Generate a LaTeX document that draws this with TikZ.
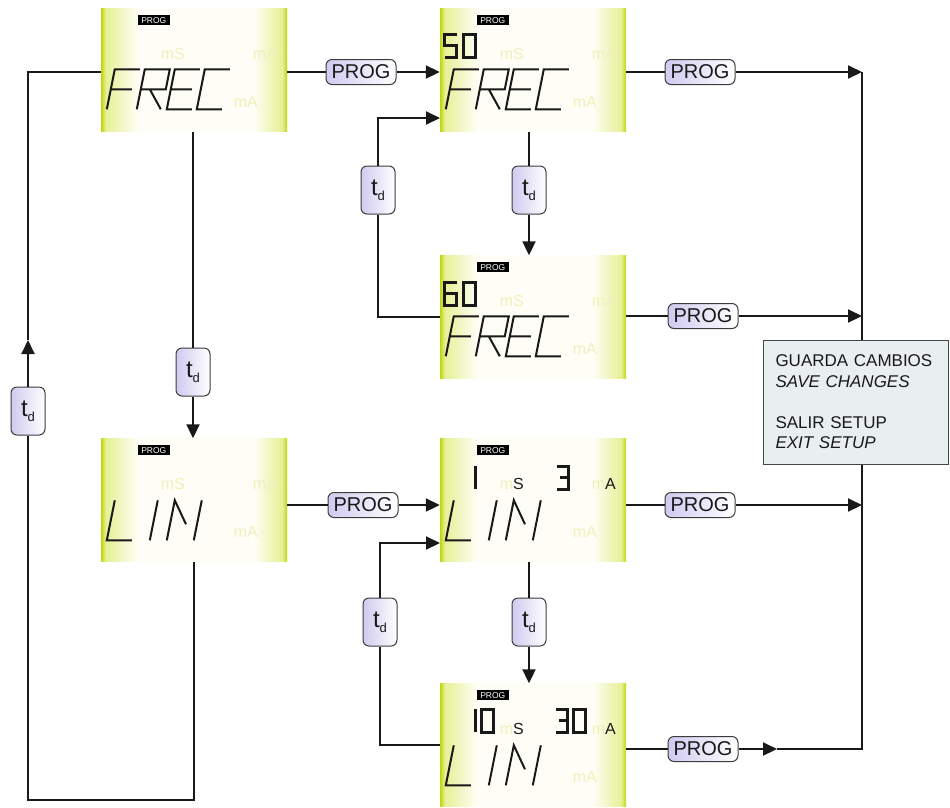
\documentclass[tikz,border=0pt]{standalone}
\usepackage{fontspec}
\setmainfont{Liberation Sans}
\usetikzlibrary{arrows.meta,calc}
\definecolor{lcdg}{RGB}{192,214,10}
\definecolor{lcdm}{RGB}{230,240,150}
\definecolor{lcdw}{RGB}{254,254,246}
\definecolor{pale}{RGB}{240,240,188}
\definecolor{lav}{RGB}{208,202,240}
\definecolor{boxc}{RGB}{233,238,240}
\definecolor{ink}{RGB}{25,25,25}
\pgfdeclarehorizontalshading{lcdshade}{100bp}{color(0bp)=(lcdg); color(25bp)=(lcdg); color(26.3bp)=(lcdm); color(35bp)=(lcdw); color(66bp)=(lcdw); color(73.7bp)=(lcdm); color(75bp)=(lcdg); color(100bp)=(lcdg)}
\tikzset{
  lcd/.style={minimum width=186pt, minimum height=123pt, inner sep=0pt, shading=lcdshade},
  wire/.style={line width=2pt, draw=ink},
  arr/.style={-{Triangle[length=14pt,width=13pt]}},
  pill/.style={draw=ink!85, line width=1pt, rounded corners=6pt, left color=lav, right color=white, text=ink, inner sep=0pt},
  progpill/.style={pill, minimum width=70pt, minimum height=25pt, font=\fontsize{20}{20}\selectfont},
  tdpill/.style={pill, minimum width=34pt, minimum height=48pt, font=\fontsize{24}{24}\selectfont},
  badge/.style={fill=black, text=white, font=\fontsize{8.5}{8.5}\selectfont, inner sep=0pt, minimum width=32pt, minimum height=10pt},
  faint/.style={text=pale, font=\fontsize{16}{16}\selectfont, anchor=base, inner sep=0pt},
  seg/.style={line width=2pt, draw=ink, line join=miter},
  dig/.style={line width=3pt, draw=ink},
  pics/gF/.style={code={\draw[seg] (0,40)--(0,0)--(25,0) (0,20)--(21,20);}},
  pics/gR/.style={code={\draw[seg] (0,40)--(0,0)--(25,0)--(25,20)--(0,20) (9,20)--(24,40);}},
  pics/gE/.style={code={\draw[seg] (25,0)--(0,0)--(0,40)--(25,40) (0,20)--(21,20);}},
  pics/gC/.style={code={\draw[seg] (25,0)--(0,0)--(0,40)--(25,40);}},
  pics/gL/.style={code={\draw[seg] (0,0)--(0,40)--(25,40);}},
  pics/gI/.style={code={\draw[seg] (0,0)--(0,40);}},
  pics/gN/.style={code={\draw[seg] (0,40)--(0,0)--(16,24) (27,0)--(27,40);}},
  pics/d0/.style={code={\draw[dig] (0,0) rectangle (12,23);}},
  pics/d1/.style={code={\draw[dig] (12,0)--(12,23);}},
  pics/d3/.style={code={\draw[dig] (0,0)--(12,0)--(12,23)--(0,23) (3,11.5)--(12,11.5);}},
  pics/d5/.style={code={\draw[dig] (12,0)--(0,0)--(0,11.5)--(12,11.5)--(12,23)--(0,23);}},
  pics/d6/.style={code={\draw[dig] (12,0)--(0,0)--(0,23)--(12,23)--(12,11.5)--(0,11.5);}},
}
\newcommand\lcddeco[3]{%
  \node[badge] (#1b) at (53,12) {PROG};
  \node[faint] (#1s) at (72,51) {m#2};
  \node[faint] (#1a) at (164,51) {m#3};
  \node[faint] (#1c) at (145,99) {mA};}
\newcommand\frecword{%
  \begin{scope}[shift={(14,61)}, xslant=0.2]
    \pic[transform shape] at (0,0) {gF}; \pic[transform shape] at (30,0) {gR};
    \pic[transform shape] at (60,0) {gE}; \pic[transform shape] at (90,0) {gC};
  \end{scope}}
\newcommand\liniword{%
  \begin{scope}[shift={(14,62)}, xslant=0.2]
    \pic[transform shape] at (0,0) {gL}; \pic[transform shape] at (43,0) {gI};
    \pic[transform shape] at (60,0) {gN};
  \end{scope}}
\begin{document}
\begin{tikzpicture}[x=1pt, y=-1pt]
\useasboundingbox (0,0) rectangle (950,807);
% LCD displays
\node[lcd] (lcd1) at (194,70) {};
\node[lcd] (lcd2) at (533,70) {};
\node[lcd] (lcd3) at (533,317) {};
\node[lcd] (lcd4) at (194,500) {};
\node[lcd] (lcd5) at (533,500) {};
\node[lcd] (lcd6) at (533,745) {};
% display contents
\begin{scope}[shift={(lcd1.north west)}]
  \lcddeco{a}{S}{A}\frecword
\end{scope}
\begin{scope}[shift={(lcd2.north west)}]
  \lcddeco{b}{S}{A}\frecword
  \pic at (5,26) {d5}; \pic at (24,26) {d0};
\end{scope}
\begin{scope}[shift={(lcd3.north west)}]
  \lcddeco{c}{S}{A}\frecword
  \pic at (5,27) {d6}; \pic at (24,27) {d0};
\end{scope}
\begin{scope}[shift={(lcd4.north west)}]
  \lcddeco{d}{S}{A}\liniword
\end{scope}
\begin{scope}[shift={(lcd5.north west)}]
  \lcddeco{e}{\textcolor{ink}{S}}{\textcolor{ink}{A}}\liniword
  \pic at (23.5,28) {d1}; \pic at (117,28) {d3};
\end{scope}
\begin{scope}[shift={(lcd6.north west)}]
  \lcddeco{f}{\textcolor{ink}{S}}{\textcolor{ink}{A}}\liniword
  \pic at (23.5,26) {d1}; \pic at (42,26) {d0};
  \pic at (116,26) {d3}; \pic at (134,26) {d0};
\end{scope}
% PROG pills
\node[progpill] (p1) at (361,72) {PROG};
\node[progpill] (p2) at (363,505) {PROG};
\node[progpill] (q1) at (700,72) {PROG};
\node[progpill] (q2) at (703,316) {PROG};
\node[progpill] (q3) at (700,505) {PROG};
\node[progpill] (q4) at (703,749) {PROG};
% td pills
\node[tdpill] (t0) at (28,411) {t\raisebox{-5pt}{\fontsize{13}{13}\selectfont d}};
\node[tdpill] (t1) at (193,372) {t\raisebox{-5pt}{\fontsize{13}{13}\selectfont d}};
\node[tdpill] (t2) at (378,190) {t\raisebox{-5pt}{\fontsize{13}{13}\selectfont d}};
\node[tdpill] (t3) at (529,190) {t\raisebox{-5pt}{\fontsize{13}{13}\selectfont d}};
\node[tdpill] (t4) at (529,622) {t\raisebox{-5pt}{\fontsize{13}{13}\selectfont d}};
\node[tdpill] (t5) at (380,622) {t\raisebox{-5pt}{\fontsize{13}{13}\selectfont d}};
% coordinates
\coordinate (r1) at (862,72);
\coordinate (r2) at (862,316);
\coordinate (r3) at (862,505);
\coordinate (r4) at (862,749);
\coordinate (m4) at (777,749);
\coordinate (m0) at (28,340);
\coordinate (bl) at (28,800);
\coordinate (e1) at (440,118);
\coordinate (e2) at (440,543);
% wires
\draw[wire] (lcd1.east |- p1) -- (p1);
\draw[wire,arr] (p1) -- (lcd2.west |- p1);
\draw[wire] (lcd2.east |- q1) -- (q1);
\draw[wire,arr] (q1) -- (r1);
\draw[wire] (lcd3.east |- q2) -- (q2);
\draw[wire,arr] (q2) -- (r2);
\draw[wire] (lcd4.east |- p2) -- (p2);
\draw[wire,arr] (p2) -- (lcd5.west |- p2);
\draw[wire] (lcd5.east |- q3) -- (q3);
\draw[wire,arr] (q3) -- (r3);
\draw[wire] (lcd6.east |- q4) -- (q4);
\draw[wire,arr] (q4) -- (m4);
\draw[wire] (m4) -- (r4) -- (r1);
% td links
\draw[wire] (lcd1.south -| t1) -- (t1);
\draw[wire,arr] (t1) -- (lcd4.north -| t1);
\draw[wire] (lcd2.south -| t3) -- (t3);
\draw[wire,arr] (t3) -- (lcd3.north -| t3);
\draw[wire] (lcd5.south -| t4) -- (t4);
\draw[wire,arr] (t4) -- (lcd6.north -| t4);
\draw[wire] (lcd3.west) -| (t2.south);
\draw[wire,arr] (t2.north) |- (e1);
\draw[wire] (lcd6.west) -| (t5.south);
\draw[wire,arr] (t5.north) |- (e2);
\draw[wire] (lcd4.south) |- (bl) -- (t0.south);
\draw[wire,arr] (t0.north) -- (m0);
\draw[wire] (m0) |- (lcd1.west |- p1);
% save box
\node[draw=ink!80, line width=1pt, fill=boxc, minimum width=185pt, minimum height=124pt,
      text width=160pt, align=left, inner sep=0pt, text=ink,
      font=\fontsize{17}{20.5}\selectfont] (save) at (855.5,402)
  {GUARDA CAMBIOS\\\textit{SAVE CHANGES}\\[20.5pt]SALIR SETUP\\\textit{EXIT SETUP}};
\end{tikzpicture}
\end{document}
